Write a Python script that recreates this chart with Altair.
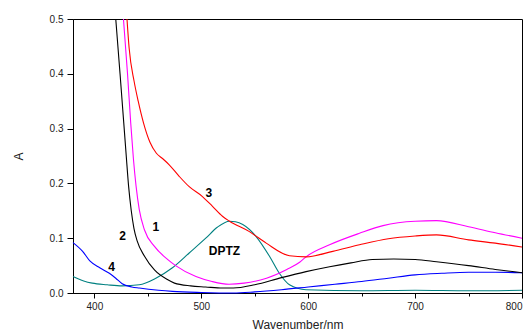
import altair as alt
import pandas as pd

# Curve 2 (black)
black_nm = [420, 424, 427.5, 430, 432, 434.5, 437, 440, 446.9, 456.2, 468.7, 474.9, 490, 504, 520, 530, 550, 575, 598, 620, 640, 660, 680, 700, 720, 750, 775, 800]
black_a = [0.5, 0.40, 0.31, 0.245, 0.195, 0.150, 0.118, 0.095, 0.067, 0.042, 0.024, 0.018, 0.013, 0.011, 0.009, 0.009, 0.015, 0.028, 0.039, 0.048, 0.055, 0.061, 0.062, 0.061, 0.057, 0.050, 0.043, 0.037]

# Curve 1 (magenta)
mag_nm = [427.2, 431, 434, 436.5, 439, 442, 446.9, 456.2, 468.7, 476, 495, 510, 526, 540, 561, 580, 592, 598, 620, 648, 670, 700, 720, 750, 775, 800]
mag_a = [0.5, 0.40, 0.31, 0.245, 0.195, 0.152, 0.115, 0.085, 0.061, 0.050, 0.030, 0.021, 0.016, 0.018, 0.027, 0.043, 0.056, 0.066, 0.088, 0.109, 0.123, 0.131, 0.132, 0.121, 0.110, 0.100]

# Curve 3 (red)
red_nm = [430.5, 432.5, 437.2, 441, 446, 452, 458, 464, 470, 479.3, 488.7, 501.1, 510.5, 519.8, 526.4, 545, 560.7, 582.5, 598, 623, 648, 675, 700, 720, 750, 775, 800]
red_a = [0.5, 0.447, 0.386, 0.35, 0.31, 0.275, 0.255, 0.245, 0.234, 0.213, 0.194, 0.176, 0.158, 0.140, 0.131, 0.112, 0.091, 0.068, 0.066, 0.076, 0.088, 0.099, 0.104, 0.106, 0.097, 0.091, 0.084]

# Curve 4 (blue)
blue_nm = [380, 389, 396, 405, 414, 420, 426, 435, 442, 460, 473, 500, 530, 550, 575, 600, 625, 650, 675, 700, 725, 750, 775, 800]
blue_a = [0.092, 0.076, 0.058, 0.046, 0.036, 0.027, 0.017, 0.011, 0.009, 0.005, 0.003, 0.001, 0.0, 0.002, 0.006, 0.011, 0.016, 0.021, 0.027, 0.033, 0.036, 0.038, 0.038, 0.037]

# DPTZ (teal)
teal_nm = [380, 390, 398, 412, 426, 442, 457.5, 473, 488.7, 504.2, 515, 526.4, 532, 538.8, 551.3, 563.8, 573, 582.5, 598, 650, 700, 750, 800]
teal_a = [0.030, 0.022, 0.018, 0.015, 0.013, 0.015, 0.027, 0.046, 0.073, 0.100, 0.120, 0.131, 0.130, 0.125, 0.103, 0.067, 0.036, 0.015, 0.006, 0.004, 0.005, 0.004, 0.005]

series_names = ["DPTZ", "4", "2", "1", "3"]
series_colors = ["#008080", "#0000FF", "#000000", "#FF00FF", "#FF0000"]
series_data = [(teal_nm, teal_a), (blue_nm, blue_a), (black_nm, black_a), (mag_nm, mag_a), (red_nm, red_a)]

# Curve labels
label_text = ["1", "2", "3", "4", "DPTZ"]
label_nm = [457.4, 426.3, 507, 416, 521.7]
label_a = [0.120, 0.104, 0.182, 0.047, 0.077]

x_ticks = [400, 450, 500, 550, 600, 650, 700, 750, 800]
y_ticks = [0.0, 0.05, 0.1, 0.15, 0.2, 0.25, 0.3, 0.35, 0.4, 0.45, 0.5]

rows = []
for name, (xs, ys) in zip(series_names, series_data):
    for i, (x, y) in enumerate(zip(xs, ys)):
        rows.append({"series": name, "nm": x, "A": y, "order": i})
df = pd.DataFrame(rows)
lab = pd.DataFrame({"text": label_text, "nm": label_nm, "A": label_a})

FONT = "Liberation Sans"

x_scale = alt.Scale(domain=[380, 800], nice=False, zero=False)
y_scale = alt.Scale(domain=[0, 0.5], nice=False)

x_axis = alt.Axis(
    values=x_ticks,
    labelExpr="datum.value % 100 == 0 ? format(datum.value, 'd') : ''",
    title="Wavenumber/nm",
    grid=False,
    tickSize={"condition": {"test": "datum.value % 100 != 0", "value": 3}, "value": 5},
    labelPadding=3,
    titlePadding=8,
    domainColor="black",
    tickColor="black",
)
y_axis = alt.Axis(
    values=y_ticks,
    labelExpr="round(datum.value * 100) % 10 == 0 ? format(datum.value, '.1f') : ''",
    title="A",
    grid=False,
    tickSize={"condition": {"test": "round(datum.value * 100) % 10 != 0", "value": 3}, "value": 6},
    labelPadding=4,
    titlePadding=24,
    titleAngle=-90,
    domainColor="black",
    tickColor="black",
)

lines = alt.Chart(df).mark_line(strokeWidth=1.1, interpolate="monotone").encode(
    x=alt.X("nm:Q", scale=x_scale, axis=x_axis),
    y=alt.Y("A:Q", scale=y_scale, axis=y_axis),
    color=alt.Color("series:N", scale=alt.Scale(domain=series_names, range=series_colors), legend=None),
    detail="series:N",
    order="order:Q",
)

labels = alt.Chart(lab).mark_text(fontWeight="bold", fontSize=12, font=FONT, color="black").encode(
    x=alt.X("nm:Q", scale=x_scale),
    y=alt.Y("A:Q", scale=y_scale),
    text="text:N",
)

chart = alt.layer(lines, labels).properties(
    width=449,
    height=274,
    autosize=alt.AutoSizeParams(type="none"),
    padding={"left": 73, "top": 19, "right": 9, "bottom": 40},
    background="white",
).configure_view(
    stroke="black", strokeWidth=1
).configure_axis(
    labelFont=FONT, titleFont=FONT, labelFontSize=10, titleFontSize=12,
    titleFontWeight="normal", labelColor="#222", titleColor="#222",
)

chart.save("out.html", embed_options={"renderer": "svg", "actions": False})
